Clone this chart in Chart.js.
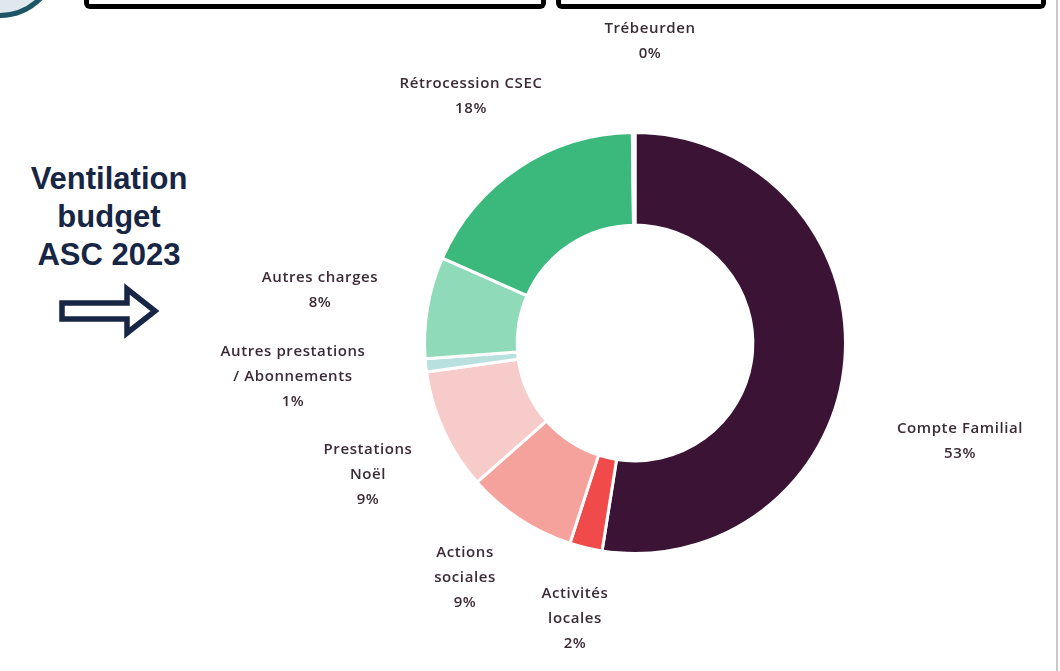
<!DOCTYPE html>
<html lang="fr">
<head>
<meta charset="utf-8">
<script src="https://cdn.jsdelivr.net/npm/chart.js@4.4.1/dist/chart.umd.min.js"></script>
<style>
  html, body { margin: 0; padding: 0; background: #fff; }
  #wrap { position: relative; width: 1060px; height: 671px; overflow: hidden; }
  #chart { position: absolute; left: 0; top: 0; }
  .titre {
    position: absolute; left: 4px; top: 160px; width: 210px;
    font-family: "Liberation Sans", Arial, sans-serif; font-weight: bold;
    font-size: 31px; line-height: 38px; color: #172645; text-align: center;
  }
  .cadre { position: absolute; border: 5px solid #000; border-top: none; border-radius: 0 0 6px 6px; }
  .rond { position: absolute; left: -62px; top: -104px; width: 112px; height: 112px;
    border: 5px solid #1d5566; border-radius: 50%; background: #dfe8ef; }
  .bord { position: absolute; left: 1056px; top: 0; width: 2px; height: 671px; background: #c9c9c9; }
  svg.fleche { position: absolute; left: 55px; top: 283px; }
</style>
</head>
<body>
<div id="wrap">
  <div class="rond"></div>
  <div class="cadre" style="left:84px; top:-10px; width:452px; height:14px;"></div>
  <div class="cadre" style="left:556px; top:-10px; width:480px; height:14px;"></div>
  <div class="bord"></div>
  <div class="titre">Ventilation<br>budget<br>ASC 2023</div>
  <svg class="fleche" width="110" height="56">
    <path d="M7 20 H72 V6 L100 28 L72 50 V36 H7 Z" fill="#fff" stroke="#172645" stroke-width="5.5" stroke-linejoin="miter"/>
  </svg>
  <canvas id="chart" width="1060" height="671"></canvas>
</div>
<script>
// postes du budget, dans le sens horaire depuis le haut
const categories = [
  "Compte Familial",
  "Activités locales",
  "Actions sociales",
  "Prestations Noël",
  "Autres prestations / Abonnements",
  "Autres charges",
  "Rétrocession CSEC",
  "Trébeurden",
];
const valeurs = [52.5, 2.5, 8.5, 9.3, 1.0, 7.8, 18.2, 0.2];
const pourcentages = ["53%", "2%", "9%", "9%", "1%", "8%", "18%", "0%"];
const lignesLabels = [
  ["Compte Familial"],
  ["Activités", "locales"],
  ["Actions", "sociales"],
  ["Prestations", "Noël"],
  ["Autres prestations", "/ Abonnements"],
  ["Autres charges"],
  ["Rétrocession CSEC"],
  ["Trébeurden"],
];
const couleurs = [
  "#3b1435", "#f04a4a", "#f5a19c", "#f7cbca",
  "#b8e0de", "#8fdab9", "#3bb87b", "#3bb87b",
];
// position des étiquettes par rapport au centre de l'anneau
const decalages = [
  [325, 98], [-60, 276], [-170, 235], [-267, 132],
  [-342, 34], [-315, -53], [-164, -247], [15, -302],
];

const etiquettes = {
  id: "etiquettes",
  afterDraw(chart) {
    const arc = chart.getDatasetMeta(0).data[0];
    if (!arc) return;
    const ctx = chart.ctx;
    const lh = 25;
    ctx.save();
    ctx.font = "600 15px 'Open Sans', sans-serif";
    ctx.letterSpacing = "0.6px";
    ctx.fillStyle = "#3a2b36";
    ctx.textAlign = "center";
    ctx.textBaseline = "middle";
    lignesLabels.forEach((lignes, i) => {
      const tout = [...lignes, pourcentages[i]];
      const cx = arc.x + decalages[i][0];
      const cy = arc.y + decalages[i][1] - ((tout.length - 1) * lh) / 2;
      tout.forEach((t, k) => ctx.fillText(t, cx, cy + k * lh));
    });
    ctx.restore();
  },
};

new Chart(document.getElementById("chart"), {
  type: "doughnut",
  data: {
    labels: categories,
    datasets: [
      {
        data: valeurs,
        backgroundColor: couleurs,
        borderColor: "#ffffff",
        borderWidth: 3,
        hoverOffset: 0,
      },
    ],
  },
  options: {
    responsive: false,
    animation: false,
    cutout: "56%",
    layout: { padding: { left: 423, right: 213, top: 131, bottom: 116 } },
    plugins: { legend: { display: false }, tooltip: { enabled: false } },
  },
  plugins: [etiquettes],
});
</script>
</body>
</html>
